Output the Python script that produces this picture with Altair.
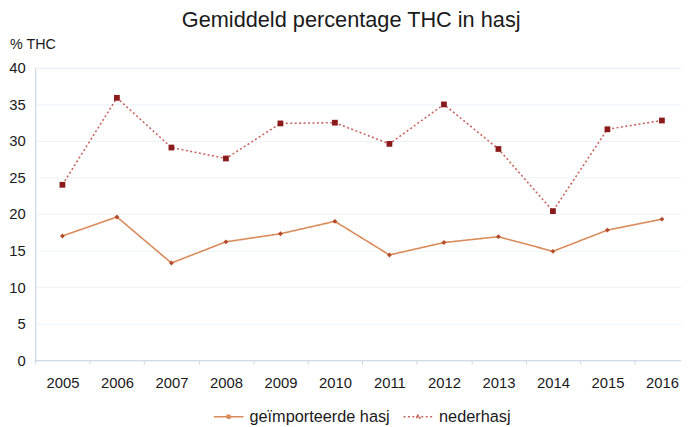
import altair as alt
import pandas as pd

years = [2005, 2006, 2007, 2008, 2009, 2010, 2011, 2012, 2013, 2014, 2015, 2016]
geimporteerd = [17.0, 19.6, 13.3, 16.2, 17.3, 19.0, 14.4, 16.1, 16.9, 14.9, 17.8, 19.3]
nederhasj = [24.0, 35.9, 29.1, 27.6, 32.4, 32.5, 29.6, 35.0, 28.9, 20.4, 31.6, 32.8]
series = ["geïmporteerde hasj", "nederhasj"]
tick_positions = [y - 0.5 for y in years]

rows = []
for y, a, b in zip(years, geimporteerd, nederhasj):
    rows.append({"jaar": y, "reeks": series[0], "thc": a})
    rows.append({"jaar": y, "reeks": series[1], "thc": b})
df = pd.DataFrame(rows)

FONT = "Liberation Sans"

x = alt.X(
    "jaar:Q",
    scale=alt.Scale(domain=[2004.5, 2016.35], nice=False, zero=False),
    axis=alt.Axis(
        values=tick_positions,
        labelExpr="datum.value + 0.5",
        labelOffset=27.6,
        labelFlush=False,
        labelOverlap=False,
        grid=False,
        tickSize=4,
        tickColor="#c9d7e6",
        domainColor="#c9d7e6",
        labelFontSize=15,
        labelColor="#1a1a1a",
        labelFont=FONT,
        labelPadding=12,
        title=None,
    ),
)
y = alt.Y(
    "thc:Q",
    scale=alt.Scale(domain=[0, 40]),
    axis=alt.Axis(
        values=[0, 5, 10, 15, 20, 25, 30, 35, 40],
        gridColor="#eef3f8",
        tickSize=0,
        domainColor="#c9d7e6",
        labelFontSize=15,
        labelColor="#1a1a1a",
        labelFont=FONT,
        labelPadding=10,
        title="% THC",
        titleAngle=0,
        titleX=-26,
        titleY=-24,
        titleAlign="left",
        titleBaseline="middle",
        titleFontSize=14.5,
        titleFontWeight="normal",
        titleFont=FONT,
        titleColor="#1a1a1a",
    ),
)

leg = alt.Legend(
    title=None,
    orient="none",
    direction="horizontal",
    legendX=180,
    legendY=337,
    symbolType="M-1,0H1M-0.1,-0.1H0.1V0.1H-0.1Z",
    symbolSize=900,
    symbolStrokeWidth=1.6,
    labelFontSize=16.5,
    labelFont=FONT,
    labelColor="#1a1a1a",
    columnPadding=9,
    labelOffset=5,
)

lines = alt.Chart(df).mark_line(strokeWidth=1.6).encode(
    x=x,
    y=y,
    stroke=alt.Stroke("reeks:N", scale=alt.Scale(domain=series, range=["#d98a5a", "#c8625c"]), legend=leg),
    strokeDash=alt.StrokeDash("reeks:N", scale=alt.Scale(domain=series, range=[[1, 0], [2, 2.5]]), legend=leg),
)

points_a = alt.Chart(df).transform_filter(alt.datum.reeks == series[0]).mark_point(
    filled=True, opacity=1, shape="diamond", size=24, color="#b54a2a"
).encode(x=x, y=y)

points_b = alt.Chart(df).transform_filter(alt.datum.reeks == series[1]).mark_point(
    filled=True, opacity=1, shape="square", size=34, color="#8b1a1a"
).encode(x=x, y=y)

chart = (
    alt.layer(lines, points_a, points_b)
    .properties(
        width=654,
        height=296,
        autosize=alt.AutoSizeParams(type="none"),
        padding={"left": 27.5, "top": 58, "right": 0, "bottom": 64},
        title=alt.Title(
            "Gemiddeld percentage THC in hasj",
            fontSize=22,
            font=FONT,
            fontWeight="normal",
            color="#1a1a1a",
            anchor="middle",
            dx=-7,
            offset=4,
        ),
    )
    .configure_view(stroke=None)
    .configure(background="white")
)

chart.save("out.html", embed_options={"renderer": "svg", "actions": False})
